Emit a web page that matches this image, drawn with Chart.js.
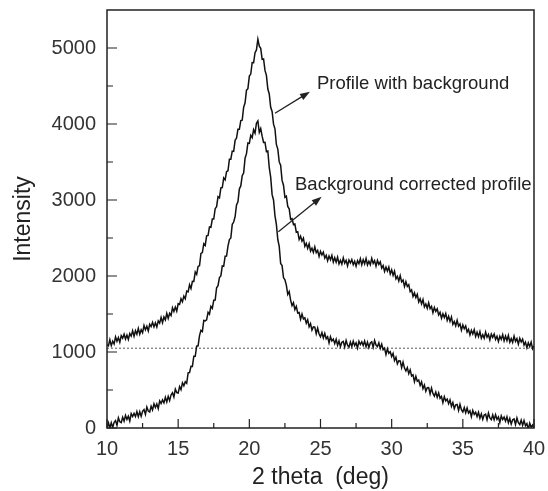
<!DOCTYPE html>
<html>
<head>
<meta charset="utf-8">
<script src="https://cdn.jsdelivr.net/npm/chart.js@4.4.0/dist/chart.umd.min.js"></script>
<style>
  html, body { margin: 0; padding: 0; background: #fff; }
  #wrap { width: 548px; height: 491px; position: relative; }
</style>
</head>
<body>
<div id="wrap"><canvas id="xrd"></canvas></div>
<script>
// scan: 2 theta 10..40 deg, 0.1 deg step (one row = 1 deg)
const scanStart = 10;
const scanStep = 0.1;

// Profile with background
const rawProfile = [
  1095,1083,1161,1084,1142,1105,1198,1141,1189,1127,
  1215,1182,1234,1171,1223,1165,1242,1209,1281,1208,
  1280,1233,1311,1234,1292,1255,1348,1291,1339,1277,
  1365,1335,1390,1330,1385,1330,1410,1380,1455,1385,
  1460,1422,1509,1441,1508,1480,1582,1534,1591,1538,
  1635,1625,1700,1660,1735,1700,1800,1790,1885,1835,
  1930,1929,2053,2022,2126,2135,2297,2308,2425,2402,
  2528,2535,2645,2640,2750,2750,2886,2912,3043,3029,
  3160,3163,3291,3264,3372,3385,3536,3537,3643,3639,
  3785,3815,3930,3930,4045,4050,4220,4280,4445,4465,
  4630,4657,4809,4806,4938,4975,5115,5025,4995,4850,
  4855,4705,4640,4460,4395,4220,4164,3998,3937,3731,
  3670,3501,3457,3258,3194,3035,3050,2915,2885,2745,
  2755,2677,2684,2576,2583,2480,2524,2458,2497,2391,
  2430,2364,2423,2327,2366,2310,2384,2308,2337,2256,
  2325,2277,2314,2236,2273,2200,2262,2214,2271,2183,
  2240,2181,2248,2159,2206,2157,2239,2170,2207,2133,
  2210,2171,2217,2148,2194,2130,2201,2162,2228,2149,
  2215,2160,2230,2145,2194,2148,2232,2165,2202,2129,
  2205,2153,2186,2104,2137,2060,2118,2066,2119,2027,
  2080,2009,2063,1962,1996,1935,2004,1923,1947,1861,
  1925,1863,1886,1794,1817,1730,1778,1716,1759,1657,
  1700,1633,1691,1594,1632,1575,1648,1571,1599,1517,
  1585,1534,1568,1487,1521,1445,1504,1453,1507,1416,
  1470,1403,1461,1364,1402,1345,1418,1341,1369,1287,
  1355,1306,1342,1263,1299,1225,1286,1237,1293,1204,
  1260,1202,1269,1181,1228,1180,1262,1194,1231,1158,
  1235,1193,1236,1164,1207,1140,1208,1166,1229,1147,
  1210,1151,1218,1129,1176,1127,1209,1140,1177,1103,
  1180,1132,1170,1092,1130,1057,1120,1072,1130,1042,
  1080
];

// Background corrected profile
const correctedProfile = [
  0,68,1,69,7,75,98,36,134,82,
  70,142,89,166,113,155,92,189,151,193,
  150,217,149,216,153,220,242,179,276,223,
  210,286,237,318,269,315,256,357,323,369,
  330,404,343,417,361,435,464,408,512,466,
  460,545,505,595,555,610,588,726,729,812,
  810,944,943,1077,1081,1215,1285,1270,1415,1410,
  1424,1523,1497,1601,1575,1682,1684,1846,1873,1980,
  2001,2133,2129,2261,2262,2394,2480,2500,2680,2710,
  2780,2935,2975,3145,3185,3320,3355,3550,3610,3750,
  3745,3850,3820,3925,3880,4010,4040,3890,3940,3840,
  3758,3760,3638,3645,3425,3300,3070,3000,2795,2680,
  2480,2390,2165,2137,1979,1951,1880,1758,1795,1683,
  1610,1647,1559,1601,1513,1520,1430,1500,1435,1450,
  1380,1423,1331,1374,1287,1330,1328,1241,1314,1237,
  1200,1255,1185,1245,1175,1200,1120,1200,1145,1170,
  1110,1167,1088,1145,1071,1128,1139,1066,1152,1089,
  1065,1131,1072,1143,1084,1120,1051,1142,1098,1134,
  1085,1145,1070,1130,1059,1118,1133,1062,1151,1091,
  1070,1121,1047,1103,1029,1050,966,1042,983,1004,
  940,982,889,931,843,885,882,794,866,788,
  750,795,715,765,685,700,610,680,615,630,
  560,607,519,566,483,530,532,449,526,453,
  420,474,403,462,391,415,334,413,357,381,
  320,370,285,335,255,305,310,230,310,240,
  210,268,201,264,197,225,148,231,179,207,
  150,207,129,186,113,170,182,109,196,133,
  110,172,109,176,113,145,72,159,111,143,
  90,147,68,125,51,108,119,46,132,69,
  45,103,35,98,30,58,-20,63,10,38,
  0
];

// flat background level (dotted line)
const backgroundX = [10, 40];
const backgroundLevel = [1050, 1050];

const xTicks = [10, 15, 20, 25, 30, 35, 40];
const yTicks = [0, 1000, 2000, 3000, 4000, 5000];

// text + arrow notes, in data units
const notes = [
  { text: 'Profile with background', at: [24.75, 4461], from: [21.80, 4141], to: [24.26, 4425] },
  { text: 'Background corrected profile', at: [23.21, 3132], from: [22.04, 2583], to: [25.08, 3043] }
];

const toPoints = arr => arr.map((v, i) => ({ x: scanStart + i * scanStep, y: v }));

const frameAndNotes = {
  id: 'frameAndNotes',
  afterDatasetsDraw(chart) {
    const { ctx, chartArea: a, scales: { x, y } } = chart;
    ctx.save();
    ctx.strokeStyle = '#222';
    ctx.lineWidth = 1.5;
    ctx.strokeRect(a.left, a.top, a.right - a.left, a.bottom - a.top);

    // inward ticks, minor ones halfway
    ctx.lineWidth = 1.2;
    ctx.beginPath();
    xTicks.forEach((v, i) => {
      const p = x.getPixelForValue(v);
      ctx.moveTo(p, a.bottom); ctx.lineTo(p, a.bottom - 9);
      if (i < xTicks.length - 1) {
        const m = x.getPixelForValue((v + xTicks[i + 1]) / 2);
        ctx.moveTo(m, a.bottom); ctx.lineTo(m, a.bottom - 5);
      }
    });
    yTicks.forEach((v, i) => {
      const p = y.getPixelForValue(v);
      ctx.moveTo(a.left, p); ctx.lineTo(a.left + 10, p);
      if (i < yTicks.length - 1) {
        const m = y.getPixelForValue((v + yTicks[i + 1]) / 2);
        ctx.moveTo(a.left, m); ctx.lineTo(a.left + 6, m);
      }
    });
    ctx.stroke();

    ctx.fillStyle = '#222';
    ctx.font = '18.5px "Liberation Sans", Arial, sans-serif';
    ctx.textBaseline = 'alphabetic';
    notes.forEach(n => {
      ctx.fillText(n.text, x.getPixelForValue(n.at[0]), y.getPixelForValue(n.at[1]));
      const x0 = x.getPixelForValue(n.from[0]), y0 = y.getPixelForValue(n.from[1]);
      const x1 = x.getPixelForValue(n.to[0]), y1 = y.getPixelForValue(n.to[1]);
      const ang = Math.atan2(y1 - y0, x1 - x0);
      ctx.lineWidth = 1.3;
      ctx.beginPath();
      ctx.moveTo(x0, y0);
      ctx.lineTo(x1 - 6 * Math.cos(ang), y1 - 6 * Math.sin(ang));
      ctx.stroke();
      ctx.beginPath();
      ctx.moveTo(x1, y1);
      ctx.lineTo(x1 - 10 * Math.cos(ang) + 3.5 * Math.sin(ang), y1 - 10 * Math.sin(ang) - 3.5 * Math.cos(ang));
      ctx.lineTo(x1 - 10 * Math.cos(ang) - 3.5 * Math.sin(ang), y1 - 10 * Math.sin(ang) + 3.5 * Math.cos(ang));
      ctx.closePath();
      ctx.fill();
    });
    ctx.restore();
  }
};

const font = { family: '"Liberation Sans", Arial, sans-serif' };
const noPad = s => { s.paddingTop = 0; s.paddingBottom = 0; s.paddingLeft = 0; s.paddingRight = 0; };

new Chart(document.getElementById('xrd'), {
  type: 'line',
  data: {
    datasets: [
      {
        label: 'Profile with background',
        data: toPoints(rawProfile),
        borderColor: '#111',
        borderWidth: 1.5,
        pointRadius: 0,
        tension: 0
      },
      {
        label: 'Background corrected profile',
        data: toPoints(correctedProfile),
        borderColor: '#111',
        borderWidth: 1.5,
        pointRadius: 0,
        tension: 0
      },
      {
        label: 'Background',
        data: backgroundX.map((v, i) => ({ x: v, y: backgroundLevel[i] })),
        borderColor: '#555',
        borderWidth: 1,
        borderDash: [2, 2],
        pointRadius: 0
      }
    ]
  },
  options: {
    responsive: true,
    maintainAspectRatio: false,
    animation: false,
    layout: { padding: { top: 10, right: 14, left: 0, bottom: 0 } },
    plugins: { legend: { display: false }, tooltip: { enabled: false } },
    scales: {
      x: {
        type: 'linear',
        min: 10,
        max: 40,
        afterBuildTicks: s => { s.ticks = xTicks.map(v => ({ value: v })); },
        afterFit: s => { s.height = 63; noPad(s); },
        grid: { display: false, drawTicks: false },
        border: { display: false },
        ticks: { padding: 9, color: '#333', font: { ...font, size: 20 }, callback: v => String(v) },
        title: {
          display: true,
          text: '2 theta  (deg)',
          color: '#222',
          padding: { top: 0, bottom: 0 },
          font: { ...font, size: 23 }
        }
      },
      y: {
        type: 'linear',
        min: 0,
        max: 5500,
        afterBuildTicks: s => { s.ticks = yTicks.map(v => ({ value: v })); },
        afterFit: s => { s.width = 107; noPad(s); },
        grid: { display: false, drawTicks: false },
        border: { display: false },
        ticks: { padding: 11, color: '#333', font: { ...font, size: 20 }, callback: v => String(v) },
        title: {
          display: true,
          text: 'Intensity',
          color: '#222',
          padding: { top: 10, bottom: 0 },
          font: { ...font, size: 23 }
        }
      }
    }
  },
  plugins: [frameAndNotes]
});
</script>
</body>
</html>
